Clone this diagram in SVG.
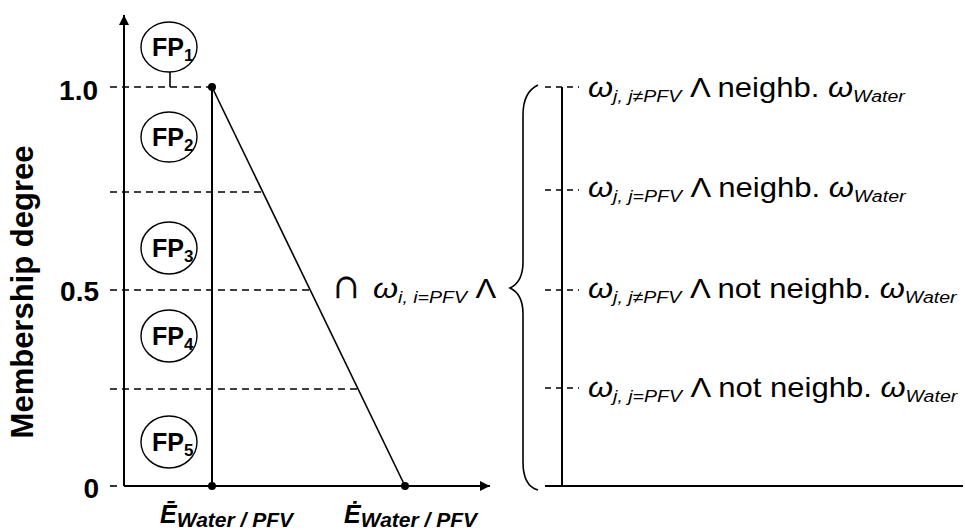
<svg xmlns="http://www.w3.org/2000/svg" width="965" height="530" viewBox="0 0 965 530" font-family="'Liberation Sans', Arial, sans-serif">
<style>
.ax{stroke:#000;stroke-width:2;fill:none}
.ln{stroke:#000;stroke-width:1.6;fill:none}
.ds{stroke:#000;stroke-width:1.3;stroke-dasharray:7 5;fill:none}
.dsr{stroke:#000;stroke-width:1.3;stroke-dasharray:6 5;fill:none}
.fp{fill:#fff;stroke:#000;stroke-width:1.4}
.fpt{font-family:'Liberation Sans',Arial,sans-serif;font-weight:bold;font-size:25px;fill:#000}
.fps{font-size:17px}
.tk{font-family:'Liberation Sans',Arial,sans-serif;font-weight:bold;font-size:28px;fill:#000;text-anchor:end}
.yl{font-family:'Liberation Sans',Arial,sans-serif;font-weight:bold;font-size:31px;fill:#000;text-anchor:middle}
.xl{font-family:'Liberation Sans',Arial,sans-serif;font-weight:bold;font-style:italic;font-size:25px;fill:#000}
.xs{font-size:21px}
.rt{font-family:'Liberation Sans',Arial,sans-serif;font-size:27px;fill:#000}
.w{font-style:italic;font-size:28px}
.sb{font-style:italic;font-size:17px}
.cap{font-family:'Liberation Sans',Arial,sans-serif;font-size:42px;fill:#000;stroke:#000;stroke-width:0.5}
.dot{fill:#000}
</style>
<defs>
<marker id="arr" viewBox="0 0 10 10" refX="10" refY="5" markerWidth="10" markerHeight="10" markerUnits="userSpaceOnUse" orient="auto">
<path d="M0,0 L10,5 L0,10 z" fill="#000"/>
</marker>
</defs>

<g id="connectors">
<line class="ax" x1="124" y1="486" x2="124" y2="15" marker-end="url(#arr)"/>
<line class="ax" x1="124" y1="486" x2="490" y2="486" marker-end="url(#arr)"/>
<line class="ds" x1="110" y1="87" x2="212" y2="87"/>
<line class="ds" x1="110" y1="192" x2="263" y2="192"/>
<line class="ds" x1="110" y1="290" x2="310" y2="290"/>
<line class="ds" x1="110" y1="389" x2="358" y2="389"/>
<line class="ln" x1="110" y1="486" x2="117" y2="486"/>
<line class="ax" x1="212" y1="87" x2="212" y2="486"/>
<line class="ln" x1="212" y1="87" x2="405" y2="486"/>
<line class="ln" x1="170" y1="72" x2="170" y2="87"/>
<circle class="dot" cx="212" cy="87" r="4"/>
<circle class="dot" cx="212" cy="486" r="4"/>
<circle class="dot" cx="405" cy="486" r="4"/>
<path class="ln" d="M538,85 Q523,92 523,115 L523,262 Q523,282 510,288 Q523,294 523,314 L523,462 Q523,486 538,490"/>
<line class="ax" x1="562" y1="87" x2="562" y2="486"/>
<line class="ax" x1="545" y1="486" x2="963" y2="486"/>
<line class="dsr" x1="545" y1="87" x2="579" y2="87"/>
<line class="dsr" x1="545" y1="190" x2="579" y2="190"/>
<line class="dsr" x1="545" y1="290" x2="579" y2="290"/>
<line class="dsr" x1="545" y1="388" x2="579" y2="388"/>
</g>

<g id="fp1"><ellipse class="fp" cx="169" cy="47" rx="28" ry="25"/><text class="fpt" x="152" y="56">FP<tspan class="fps" dy="5">1</tspan></text></g>
<g id="fp2"><ellipse class="fp" cx="169" cy="137" rx="28" ry="25"/><text class="fpt" x="152" y="146">FP<tspan class="fps" dy="5">2</tspan></text></g>
<g id="fp3"><ellipse class="fp" cx="169" cy="248" rx="28" ry="26"/><text class="fpt" x="152" y="257">FP<tspan class="fps" dy="5">3</tspan></text></g>
<g id="fp4"><ellipse class="fp" cx="169" cy="336" rx="28" ry="26"/><text class="fpt" x="152" y="345">FP<tspan class="fps" dy="5">4</tspan></text></g>
<g id="fp5"><ellipse class="fp" cx="169" cy="442" rx="28" ry="26"/><text class="fpt" x="152" y="451">FP<tspan class="fps" dy="5">5</tspan></text></g>

<g id="axis-labels">
<text class="tk" x="98" y="100">1.0</text>
<text class="tk" x="99" y="301">0.5</text>
<text class="tk" x="99" y="498">0</text>
<text class="yl" transform="translate(33,292) rotate(-90)">Membership degree</text>
<text class="xl" x="160" y="523">Ē<tspan class="xs" dy="4">Water / PFV</tspan></text>
<text class="xl" x="344" y="523">Ė<tspan class="xs" dy="4">Water / PFV</tspan></text>
</g>

<g id="intersection">
<text class="cap" x="331" y="298">∩</text>
<g transform="translate(373,298) scale(1.15,1)">
<text class="rt" x="0" y="0"><tspan class="w">ω</tspan><tspan class="sb" dy="5">i, i=PFV</tspan><tspan dy="-5"> Λ</tspan></text>
</g>
</g>

<g id="row1" transform="translate(588,97) scale(1.15,1)"><text class="rt" x="0" y="0"><tspan class="w">ω</tspan><tspan class="sb" dy="5">j, j≠PFV</tspan><tspan dy="-5"> Λ neighb. </tspan><tspan class="w">ω</tspan><tspan class="sb" dy="5">Water</tspan></text></g>
<g id="row2" transform="translate(588,197) scale(1.15,1)"><text class="rt" x="0" y="0"><tspan class="w">ω</tspan><tspan class="sb" dy="5">j, j=PFV</tspan><tspan dy="-5"> Λ neighb. </tspan><tspan class="w">ω</tspan><tspan class="sb" dy="5">Water</tspan></text></g>
<g id="row3" transform="translate(588,298) scale(1.15,1)"><text class="rt" x="0" y="0"><tspan class="w">ω</tspan><tspan class="sb" dy="5">j, j≠PFV</tspan><tspan dy="-5"> Λ not neighb. </tspan><tspan class="w">ω</tspan><tspan class="sb" dy="5">Water</tspan></text></g>
<g id="row4" transform="translate(588,397) scale(1.15,1)"><text class="rt" x="0" y="0"><tspan class="w">ω</tspan><tspan class="sb" dy="5">j, j=PFV</tspan><tspan dy="-5"> Λ not neighb. </tspan><tspan class="w">ω</tspan><tspan class="sb" dy="5">Water</tspan></text></g>
</svg>
